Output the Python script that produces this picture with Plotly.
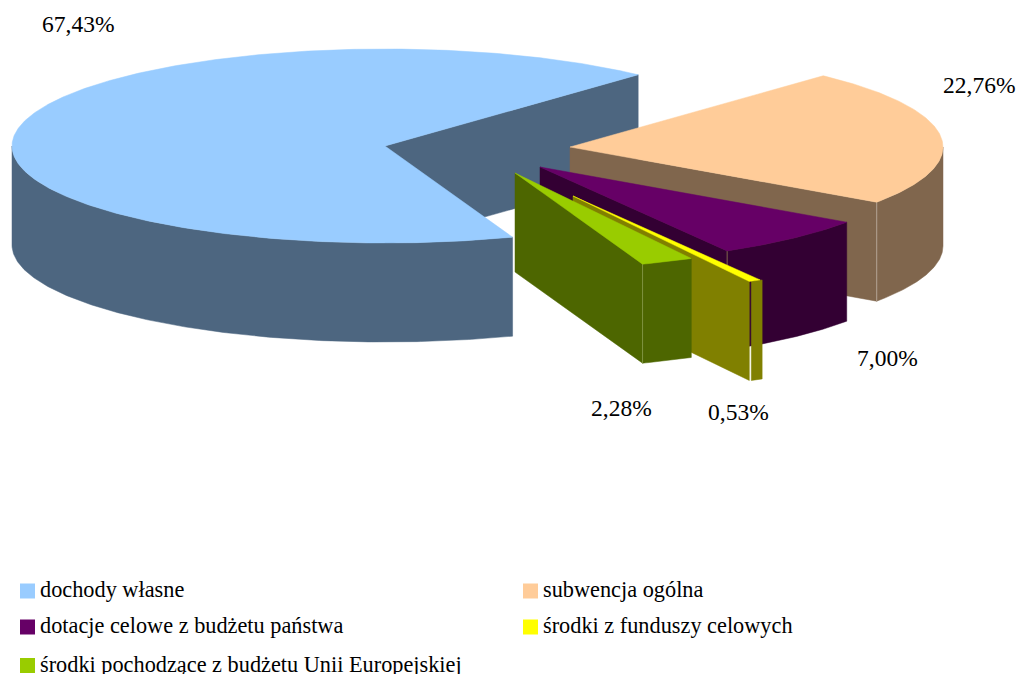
import math
import numpy as np
import plotly.graph_objects as go

categories = ["dochody własne", "subwencja ogólna", "dotacje celowe z budżetu państwa",
              "środki z funduszy celowych", "środki pochodzące z budżetu Unii Europejskiej"]
values = [67.43, 22.76, 7.00, 0.53, 2.28]
top_colors = ["#99CCFF", "#FFCC99", "#660066", "#FFFF00", "#99CC00"]
side_colors = ["#4D6680", "#80664D", "#330033", "#808000", "#4D6600"]
seam_colors = [None, "#B3A394", "#80664D", None, "#7F9440"]

# geometry / style
CX, CY, RX, RY, DEPTH = 385, 146, 373, 97, 99
START = -70.0  # degrees, slices run clockwise
explode = [(0, 0), (185, 1), (155, 21), (188, 50), (130, 27)]
wall_gap = [0, 0, 0, 2, 0]
label_pos = [(78, 24), (979, 85), (887, 358), (738, 412), (621, 408)]
legend_pos = [(27.5, 591), (530.5, 591), (27.5, 627), (530.5, 627), (27.5, 665.5)]
legend_text_y = [589.5, 589.5, 625.5, 625.5, 664]

W, H = 1018, 674
fig = go.Figure()


def pt(cx, cy, deg, dz=0):
    r = math.radians(deg)
    return cx + RX * math.cos(r), cy - RY * math.sin(r) + dz


def poly(points, color):
    xs = [p[0] for p in points] + [points[0][0]]
    ys = [p[1] for p in points] + [points[0][1]]
    fig.add_trace(go.Scatter(x=xs, y=ys, mode="lines", fill="toself", fillcolor=color,
                             line=dict(width=0.5, color=color), hoverinfo="skip", showlegend=False))


def arc(cx, cy, a0, a1, dz=0):
    n = max(2, int(abs(a1 - a0) * 2))
    return [pt(cx, cy, a, dz) for a in np.linspace(a0, a1, n)]


angle = START
for i, v in enumerate(values):
    sweep = v / sum(values) * 360
    a0, a1 = angle, angle - sweep  # clockwise from a0 to a1
    angle = a1
    if i > 0:  # express the later slices in the same turn as the start angle
        a0, a1 = a0 + 360, a1 + 360
    cx, cy = CX + explode[i][0], CY + explode[i][1]
    top = [(cx, cy)] + arc(cx, cy, a0, a1)
    s = side_colors[i]
    e = pt(cx, cy, a1)
    poly([(cx, cy), e, (e[0], e[1] + DEPTH), (cx, cy + DEPTH)], s)
    wall = arc(cx, cy, -180, a0) if i == 0 else arc(cx, cy, a1, min(a0, 0))
    g = wall_gap[i]
    poly([(p[0] + g, p[1]) for p in wall] + [(p[0] + g, p[1] + DEPTH) for p in reversed(wall)], s)
    if seam_colors[i]:
        fig.add_trace(go.Scatter(x=[e[0], e[0]], y=[e[1], e[1] + DEPTH], mode="lines",
                                 line=dict(width=1, color=seam_colors[i]), hoverinfo="skip", showlegend=False))
    poly(top, top_colors[i])

annotations = []
for v, (x, y) in zip(values, label_pos):
    annotations.append(dict(x=x, y=y, text=f"{v:.2f}%".replace(".", ","), showarrow=False,
                            xanchor="center", yanchor="middle",
                            font=dict(family="Liberation Serif", size=23.5, color="#000000")))
for name, (x, _), ty in zip(categories, legend_pos, legend_text_y):
    annotations.append(dict(x=x + 10.5, y=ty, text=name, showarrow=False, xanchor="left", yanchor="middle",
                            font=dict(family="Liberation Serif", size=22.3, color="#000000")))

fig.add_trace(go.Scatter(x=[p[0] for p in legend_pos], y=[p[1] for p in legend_pos], mode="markers",
                         marker=dict(symbol="square", size=15, color=top_colors, line=dict(width=0)),
                         hoverinfo="skip", showlegend=False))

fig.update_layout(width=W, height=H, margin=dict(l=0, r=0, t=0, b=0), paper_bgcolor="white",
                  plot_bgcolor="white", showlegend=False, annotations=annotations,
                  xaxis=dict(range=[0, W], visible=False, fixedrange=True),
                  yaxis=dict(range=[H, 0], visible=False, fixedrange=True))
fig.write_html("out.html", config=dict(displayModeBar=False, responsive=False),
               post_script="document.body.style.margin='0';document.documentElement.style.overflow='hidden';")
